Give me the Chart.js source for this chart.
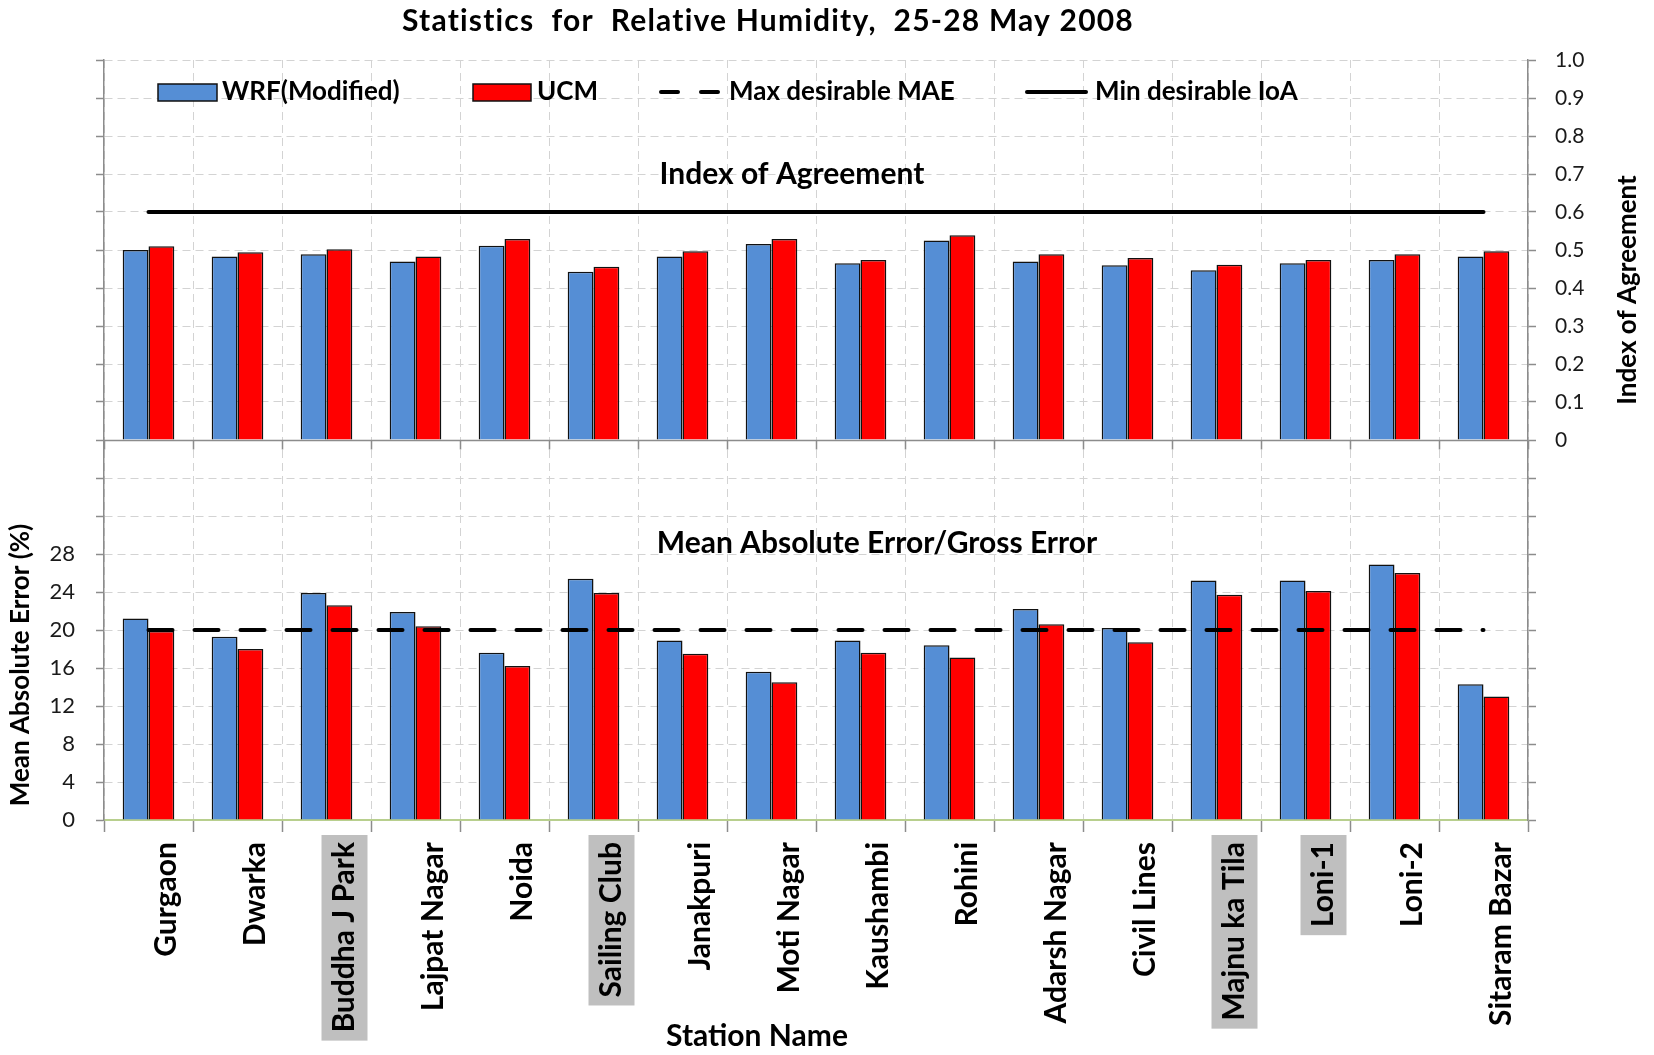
<!DOCTYPE html>
<html>
<head>
<meta charset="utf-8">
<script src="https://cdn.jsdelivr.net/npm/chart.js@4.4.1/dist/chart.umd.min.js"></script>
<style>
html, body { margin: 0; padding: 0; background: #fff; }
#wrap { width: 1654px; height: 1055px; }
</style>
</head>
<body>
<div id="wrap"><canvas id="humidity-chart"></canvas></div>
<script>
var stations = ['Gurgaon', 'Dwarka', 'Buddha J Park', 'Lajpat Nagar', 'Noida', 'Sailing Club', 'Janakpuri', 'Moti Nagar',
    'Kaushambi', 'Rohini', 'Adarsh Nagar', 'Civil Lines', 'Majnu ka Tila', 'Loni-1', 'Loni-2', 'Sitaram Bazar'];
var highlighted = ['Buddha J Park', 'Sailing Club', 'Majnu ka Tila', 'Loni-1'];

var ioaWrf = [0.500, 0.483, 0.489, 0.470, 0.511, 0.443, 0.483, 0.516, 0.465, 0.525, 0.470, 0.460, 0.447, 0.465, 0.474, 0.483];
var ioaUcm = [0.510, 0.494, 0.502, 0.483, 0.529, 0.456, 0.497, 0.529, 0.474, 0.539, 0.489, 0.479, 0.461, 0.474, 0.489, 0.497];
var maeWrf = [21.2, 19.3, 23.9, 21.9, 17.6, 25.4, 18.9, 15.6, 18.9, 18.4, 22.2, 20.2, 25.2, 25.2, 26.9, 14.3];
var maeUcm = [19.9, 18.0, 22.6, 20.4, 16.2, 23.9, 17.5, 14.5, 17.6, 17.1, 20.6, 18.7, 23.7, 24.1, 26.0, 13.0];
var maeLimit = [20, 20, 20, 20, 20, 20, 20, 20, 20, 20, 20, 20, 20, 20, 20, 20];
var ioaLimit = [0.6, 0.6, 0.6, 0.6, 0.6, 0.6, 0.6, 0.6, 0.6, 0.6, 0.6, 0.6, 0.6, 0.6, 0.6, 0.6];

var blue = '#558ed5';
var red = '#ff0000';
var axisGrey = '#8c8c8c';
var gridGrey = '#d3d3d3';

Chart.defaults.font.family = 'Lato';
Chart.defaults.color = '#111';

var ctx = document.getElementById('humidity-chart').getContext('2d');

// ====Headings, axis titles, legend and the IoA zero line====
var decorations = {
    id: 'decorations',
    beforeDatasetsDraw: function (chart) {
        var c = chart.ctx, area = chart.chartArea, x = chart.scales.x;
        var y0 = Math.round(chart.scales.y2.getPixelForValue(0)) + 0.5;
        var half = (x.getPixelForValue(1) - x.getPixelForValue(0)) / 2;
        c.save();
        c.strokeStyle = axisGrey;
        c.lineWidth = 1.5;
        c.beginPath();
        c.moveTo(area.left, y0);
        c.lineTo(area.right, y0);
        for (var i = 0; i <= stations.length; i++) {
            var px = Math.round(x.getPixelForValue(0) - half + i * 2 * half) + 0.5;
            c.moveTo(px, y0);
            c.lineTo(px, y0 + 9);
        }
        c.stroke();
        c.restore();
    },
    afterDraw: function (chart) {
        var c = chart.ctx;
        c.save();
        c.fillStyle = '#000';
        c.textBaseline = 'middle';
        c.textAlign = 'center';
        c.font = 'bold 30px Lato';
        c.letterSpacing = '1.2px';
        c.fillText('Statistics  for  Relative Humidity,  25-28 May 2008', 768, 21);
        c.letterSpacing = '0px';
        c.fillText('Index of Agreement', 792, 174);
        c.fillText('Mean Absolute Error/Gross Error', 877, 543);
        c.fillText('Station Name', 757, 1036);

        c.font = 'bold 26px Lato';
        c.save();
        c.translate(21, 665);
        c.rotate(-Math.PI / 2);
        c.fillText('Mean Absolute Error (%)', 0, 0);
        c.restore();
        c.save();
        c.translate(1628, 290);
        c.rotate(-Math.PI / 2);
        c.fillText('Index of Agreement', 0, 0);
        c.restore();

        // legend
        c.textAlign = 'left';
        c.font = 'bold 26px Lato';
        c.lineWidth = 1.5;
        c.strokeStyle = '#111';
        c.fillStyle = blue;
        c.fillRect(158, 84, 59, 17);
        c.strokeRect(158, 84, 59, 17);
        c.fillStyle = red;
        c.fillRect(473, 84, 58, 17);
        c.strokeRect(473, 84, 58, 17);
        c.fillStyle = '#000';
        c.fillText('WRF(Modified)', 222, 92);
        c.fillText('UCM', 537, 92);
        c.fillText('Max desirable MAE', 729, 92);
        c.fillText('Min desirable IoA', 1095, 92);

        c.strokeStyle = '#000';
        c.lineWidth = 4;
        c.lineCap = 'round';
        c.setLineDash([17, 23]);
        c.beginPath();
        c.moveTo(661, 92);
        c.lineTo(721, 92);
        c.stroke();
        c.setLineDash([]);
        c.beginPath();
        c.moveTo(1027, 92);
        c.lineTo(1086, 92);
        c.stroke();
        c.restore();
    }
};

var barStyle = { borderColor: '#111', borderWidth: 1.5, order: 1 };

var humidityChart = new Chart(ctx, {
    type: 'bar',
    data: {
        labels: stations,
        datasets: [
            { type: 'line', label: 'Max desirable MAE', data: maeLimit, yAxisID: 'y', borderColor: '#000', borderWidth: 4,
              borderDash: [24, 22], borderCapStyle: 'round', pointRadius: 0, fill: false, order: 0 },
            { type: 'line', label: 'Min desirable IoA', data: ioaLimit, yAxisID: 'y2', borderColor: '#000', borderWidth: 4,
              borderCapStyle: 'round', pointRadius: 0, fill: false, order: 0 },
            Object.assign({ label: 'WRF(Modified)', data: maeWrf, yAxisID: 'y', stack: 'wrf', backgroundColor: blue }, barStyle),
            Object.assign({ label: 'UCM', data: maeUcm, yAxisID: 'y', stack: 'ucm', backgroundColor: red }, barStyle),
            Object.assign({ label: 'WRF(Modified) IoA', data: ioaWrf, yAxisID: 'y2', stack: 'wrf', backgroundColor: blue }, barStyle),
            Object.assign({ label: 'UCM IoA', data: ioaUcm, yAxisID: 'y2', stack: 'ucm', backgroundColor: red }, barStyle)
        ]
    },
    options: {
        responsive: true,
        maintainAspectRatio: false,
        animation: false,
        layout: { padding: { top: 60, left: 0, right: 0, bottom: 0 } },
        datasets: { bar: { categoryPercentage: 0.58, barPercentage: 1.0 } },
        plugins: { legend: { display: false }, tooltip: { enabled: false } },
        scales: {
            x: {
                offset: true,
                grid: { offset: true, color: gridGrey, lineWidth: 1, tickLength: 12, tickColor: axisGrey, tickWidth: 1.5, tickBorderDash: [] },
                border: { color: '#b8cf8e', width: 2, dash: [8, 5] },
                ticks: {
                    autoSkip: false, maxRotation: 90, minRotation: 90, padding: 10,
                    font: { size: 30, weight: 'bold' }, color: '#000',
                    showLabelBackdrop: true,
                    backdropPadding: { top: 5, bottom: 5, left: 8, right: 7 },
                    backdropColor: function (c) {
                        return highlighted.indexOf(stations[c.index]) >= 0 ? '#bfbfbf' : 'rgba(0,0,0,0)';
                    }
                },
                afterFit: function (s) { s.height = 235; }
            },
            y: {
                position: 'left', min: 0, max: 80, stacked: false,
                ticks: {
                    stepSize: 4, padding: 21, font: { size: 22 }, color: '#1a1a1a',
                    callback: function (v) { return v <= 28 ? v : ''; }
                },
                grid: {
                    color: function (c) {
                        return (c.tick && (c.tick.value === 0 || c.tick.value === 40)) ? 'rgba(0,0,0,0)' : gridGrey;
                    },
                    tickColor: axisGrey, tickLength: 8, tickWidth: 1.5, tickBorderDash: []
                },
                border: { color: axisGrey, width: 1.5, dash: [8, 5] },
                afterFit: function (s) { s.width = 104; }
            },
            y2: {
                position: 'right', min: -1, max: 1, stacked: false,
                ticks: {
                    stepSize: 0.1, padding: 19, font: { size: 21 }, color: '#1a1a1a',
                    callback: function (v) {
                        if (v < -0.001) return '';
                        return Math.abs(v) < 0.001 ? '0' : v.toFixed(1);
                    }
                },
                grid: { drawOnChartArea: false, tickColor: axisGrey, tickLength: 8, tickWidth: 1.5 },
                border: { color: axisGrey, width: 1.5 },
                afterFit: function (s) { s.width = 126; }
            }
        }
    },
    plugins: [decorations]
});
</script>
</body>
</html>
